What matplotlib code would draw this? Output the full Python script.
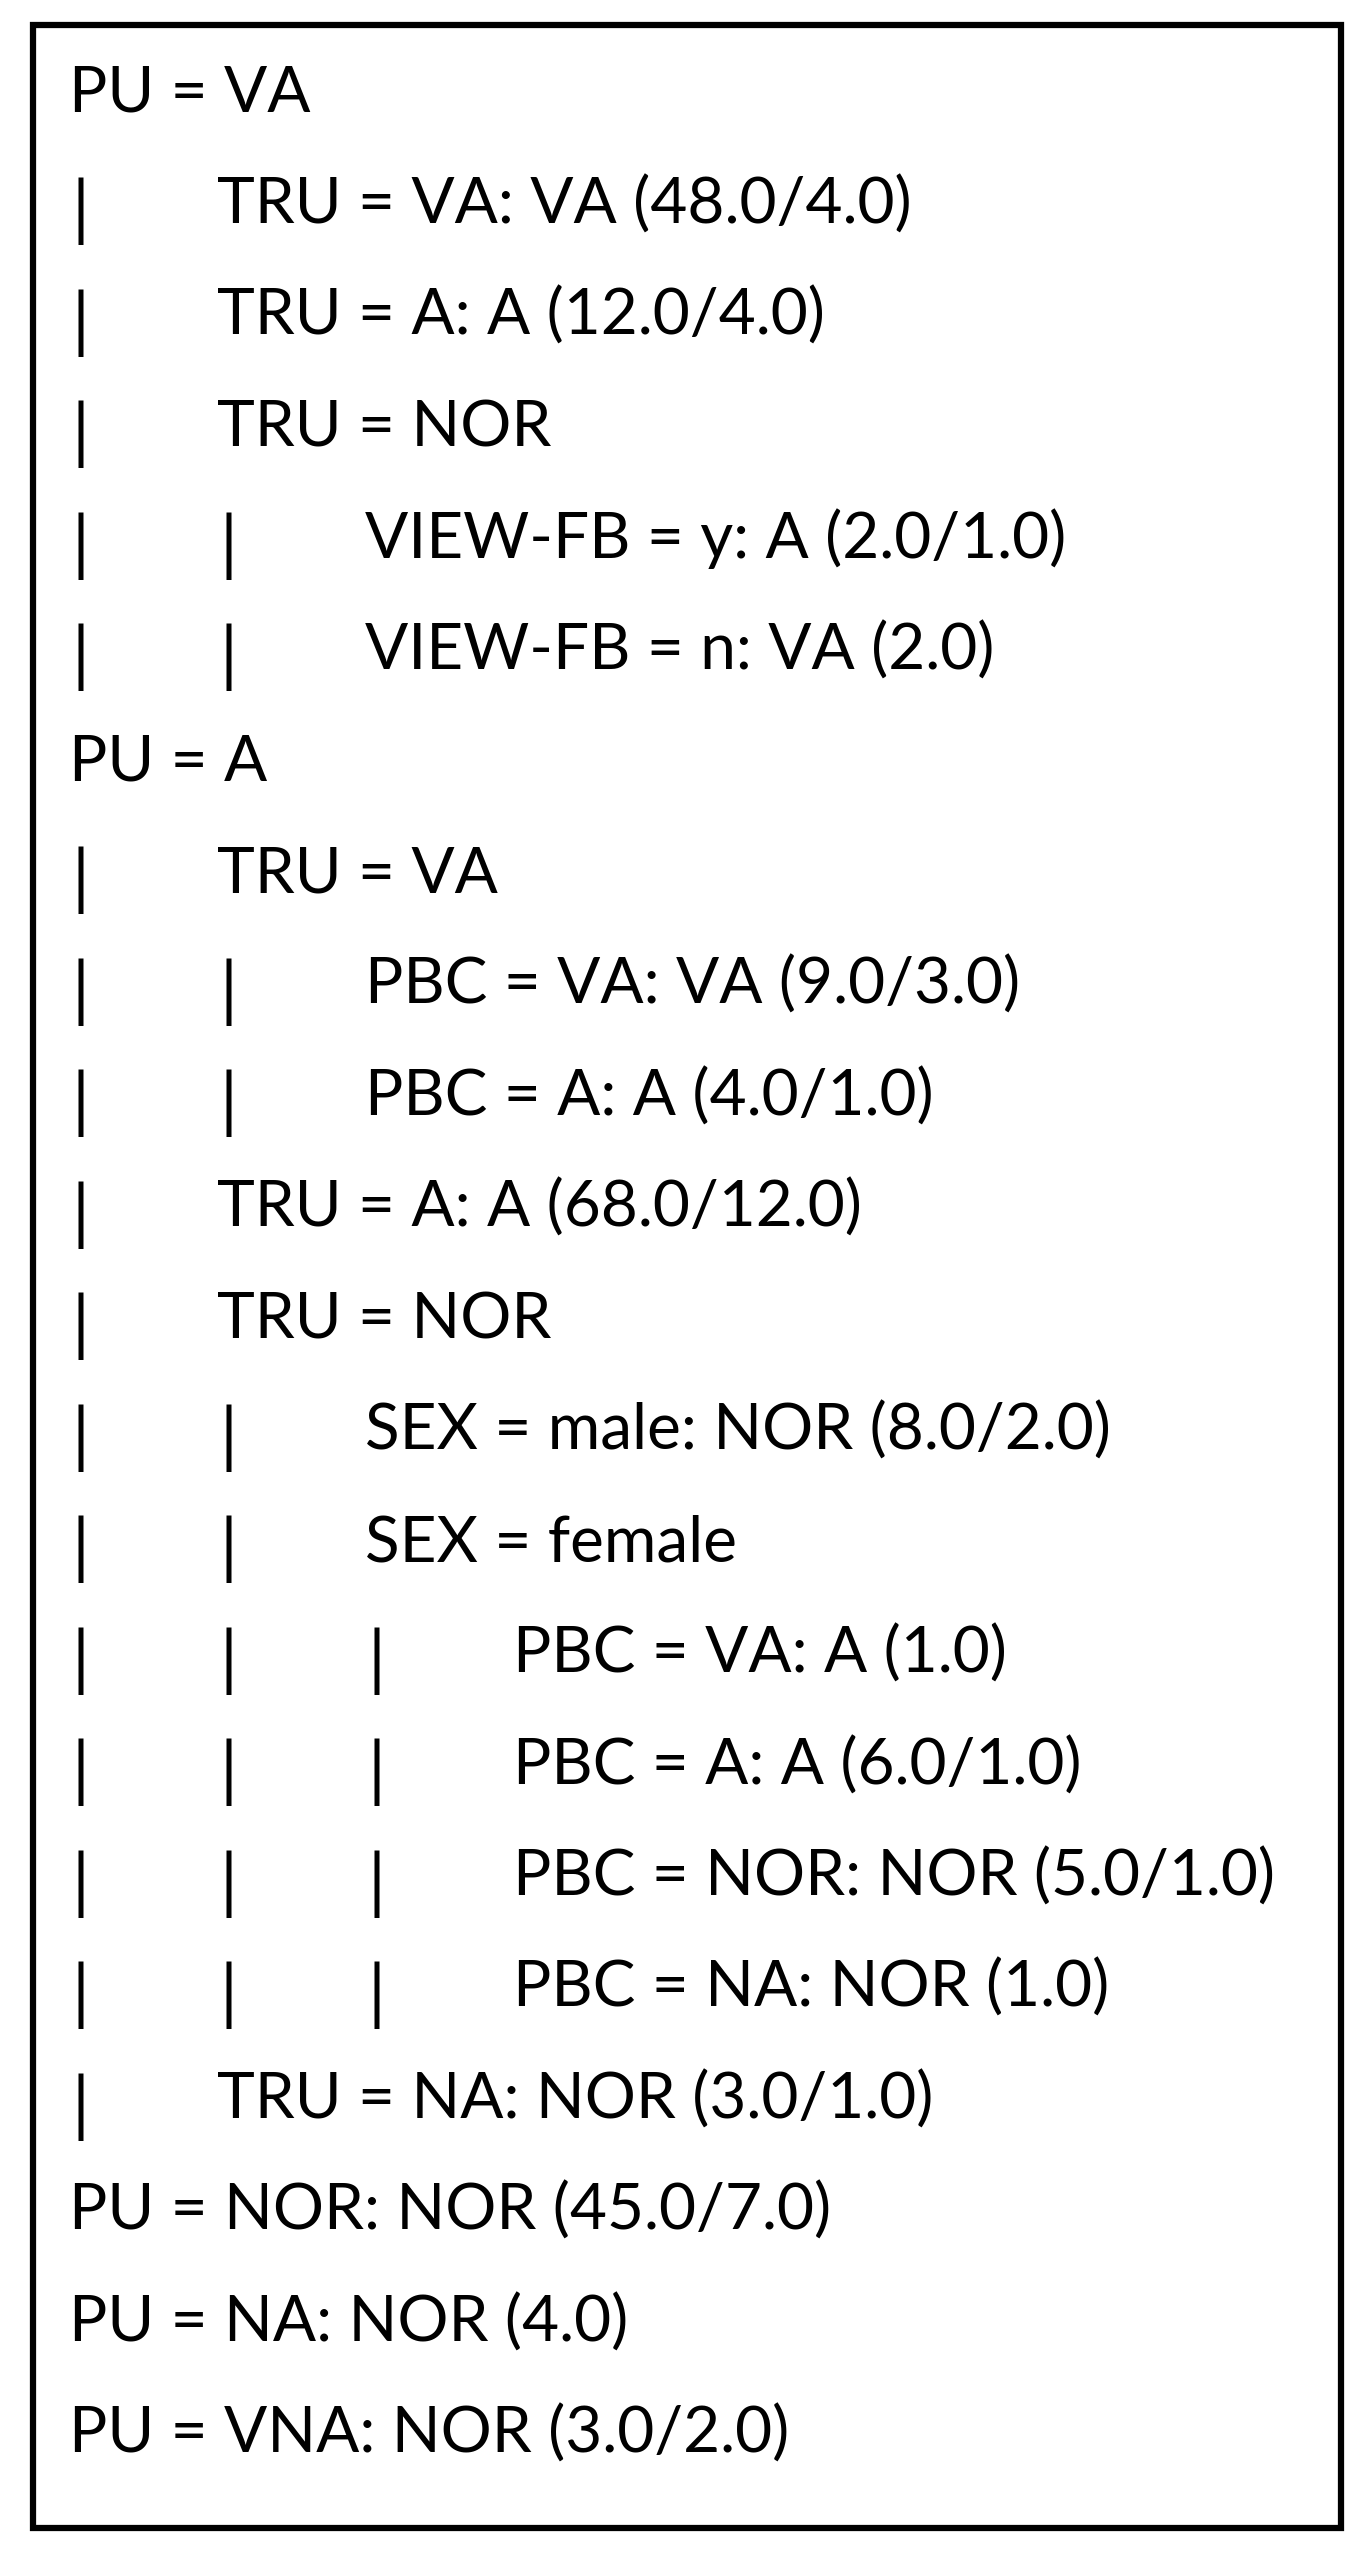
import matplotlib.pyplot as plt
from matplotlib.patches import Rectangle

# (depth, text) for each line of the decision tree
depths = [0, 1, 1, 1, 2, 2, 0, 1, 2, 2, 1, 1, 2, 2, 3, 3, 3, 3, 1, 0, 0, 0]
rules = [
    "PU = VA",
    "TRU = VA: VA (48.0/4.0)",
    "TRU = A: A (12.0/4.0)",
    "TRU = NOR",
    "VIEW-FB = y: A (2.0/1.0)",
    "VIEW-FB = n: VA (2.0)",
    "PU = A",
    "TRU = VA",
    "PBC = VA: VA (9.0/3.0)",
    "PBC = A: A (4.0/1.0)",
    "TRU = A: A (68.0/12.0)",
    "TRU = NOR",
    "SEX = male: NOR (8.0/2.0)",
    "SEX = female",
    "PBC = VA: A (1.0)",
    "PBC = A: A (6.0/1.0)",
    "PBC = NOR: NOR (5.0/1.0)",
    "PBC = NA: NOR (1.0)",
    "TRU = NA: NOR (3.0/1.0)",
    "PU = NOR: NOR (45.0/7.0)",
    "PU = NA: NOR (4.0)",
    "PU = VNA: NOR (3.0/2.0)",
]

W, H = 1365, 2552
fig = plt.figure(figsize=(W / 100, H / 100), dpi=100)
ax = fig.add_axes([0, 0, 1, 1])
ax.set_xlim(0, W)
ax.set_ylim(H, 0)
ax.axis("off")

ax.add_patch(Rectangle((33, 25), 1308, 2503, fill=False, edgecolor="black", linewidth=4.5))

x0 = 69
indent = 148
bar_off = 2
y_first = 112
spacing = (2453 - 112) / (len(rules) - 1)
for i, (d, t) in enumerate(zip(depths, rules)):
    y = y_first + i * spacing
    for k in range(d):
        ax.text(x0 + k * indent + bar_off, y + 10, "|", fontsize=52, family="Lato", va="baseline")
    ax.text(x0 + d * indent, y, t, fontsize=46, family="Lato", va="baseline")

fig.savefig("out.png", dpi=100)
